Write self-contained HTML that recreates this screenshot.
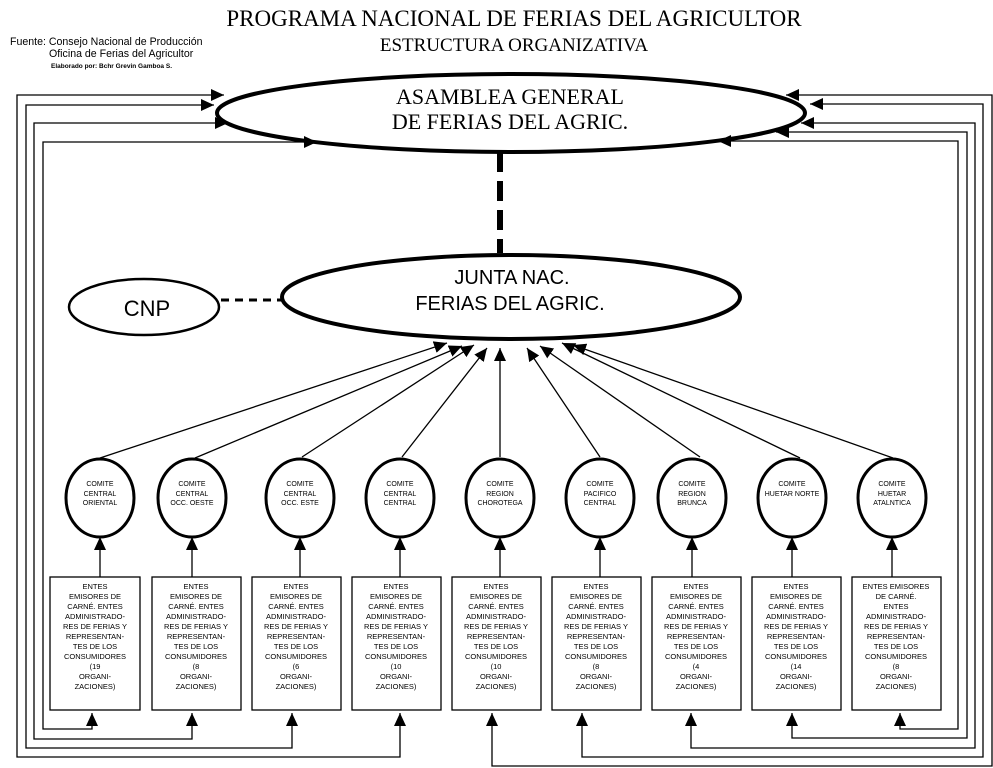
<!DOCTYPE html>
<html><head><meta charset="utf-8"><style>
html,body{margin:0;padding:0;background:#fff;}
svg{display:block;}
.s{font-family:"Liberation Sans",sans-serif;}
.r{font-family:"Liberation Serif",serif;}
</style></head><body>
<svg width="993" height="768" viewBox="0 0 993 768" xmlns="http://www.w3.org/2000/svg">
<defs>
<marker id="a" markerUnits="userSpaceOnUse" markerWidth="14" markerHeight="12" refX="13" refY="6" orient="auto-start-reverse">
<path d="M0,0 L13,6 L0,12 Z" fill="#000"/>
</marker>
</defs>
<text class="r" x="514" y="26" font-size="23" text-anchor="middle">PROGRAMA NACIONAL DE FERIAS DEL AGRICULTOR</text>
<text class="r" x="514" y="51" font-size="19" text-anchor="middle">ESTRUCTURA ORGANIZATIVA</text>
<text class="s" x="10" y="45" font-size="10.6">Fuente: Consejo Nacional de Producción</text>
<text class="s" x="49" y="57" font-size="10.6">Oficina de Ferias del Agricultor</text>
<text class="s" x="51" y="68" font-size="6.5" font-weight="bold">Elaborado por: Bchr Grevin Gamboa S.</text>

<!-- ellipses -->
<ellipse cx="511" cy="113" rx="294" ry="39" fill="#fff" stroke="#000" stroke-width="4"/>
<text class="r" x="510" y="104" font-size="22" text-anchor="middle">ASAMBLEA GENERAL</text>
<text class="r" x="510" y="129" font-size="22" text-anchor="middle">DE FERIAS DEL AGRIC.</text>
<line x1="500" y1="152" x2="500" y2="253" stroke="#000" stroke-width="6" stroke-dasharray="20,9"/>
<ellipse cx="511" cy="297" rx="229" ry="42" fill="#fff" stroke="#000" stroke-width="4"/>
<text class="s" x="512" y="284" font-size="20" text-anchor="middle">JUNTA NAC.</text>
<text class="s" x="510" y="310" font-size="20" text-anchor="middle">FERIAS DEL AGRIC.</text>
<line x1="221" y1="300" x2="281" y2="300" stroke="#000" stroke-width="3" stroke-dasharray="8,6"/>
<ellipse cx="144" cy="307" rx="75" ry="28" fill="#fff" stroke="#000" stroke-width="2.5"/>
<text class="s" x="147" y="316" font-size="22" text-anchor="middle">CNP</text>

<g fill="none" stroke="#000" stroke-width="1.3">
<!-- left loops -->
<polyline points="92,713 92,729 43,729 43,142 317,142" marker-start="url(#a)" marker-end="url(#a)"/>
<polyline points="192,713 192,739 34,739 34,123 228,123" marker-start="url(#a)" marker-end="url(#a)"/>
<polyline points="292,713 292,748 26,748 26,105 214,105" marker-start="url(#a)" marker-end="url(#a)"/>
<polyline points="400,713 400,757 17,757 17,95 224,95" marker-start="url(#a)" marker-end="url(#a)"/>
<!-- right loops -->
<polyline points="900,713 900,729 958,729 958,141 718,141" marker-start="url(#a)" marker-end="url(#a)"/>
<polyline points="792,713 792,738 967,738 967,132 776,132" marker-start="url(#a)" marker-end="url(#a)"/>
<polyline points="691,713 691,748 975,748 975,123 801,123" marker-start="url(#a)" marker-end="url(#a)"/>
<polyline points="582,713 582,757 983,757 983,104 810,104" marker-start="url(#a)" marker-end="url(#a)"/>
<polyline points="492,713 492,766 992,766 992,95 786,95" marker-start="url(#a)" marker-end="url(#a)"/>
<!-- circle to junta -->
<line x1="100" y1="458" x2="447" y2="343" marker-end="url(#a)"/>
<line x1="195" y1="458" x2="462" y2="346" marker-end="url(#a)"/>
<line x1="302" y1="457" x2="474" y2="345" marker-end="url(#a)"/>
<line x1="402" y1="457" x2="487" y2="348" marker-end="url(#a)"/>
<line x1="500" y1="457" x2="500" y2="348" marker-end="url(#a)"/>
<line x1="600" y1="457" x2="527" y2="348" marker-end="url(#a)"/>
<line x1="700" y1="457" x2="540" y2="346" marker-end="url(#a)"/>
<line x1="800" y1="458" x2="562" y2="343" marker-end="url(#a)"/>
<line x1="893" y1="458" x2="573" y2="345" marker-end="url(#a)"/>
<!-- box to circle -->
<line x1="100" y1="577" x2="100" y2="537" marker-end="url(#a)"/>
<line x1="192" y1="577" x2="192" y2="537" marker-end="url(#a)"/>
<line x1="300" y1="577" x2="300" y2="537" marker-end="url(#a)"/>
<line x1="400" y1="577" x2="400" y2="537" marker-end="url(#a)"/>
<line x1="500" y1="577" x2="500" y2="537" marker-end="url(#a)"/>
<line x1="600" y1="577" x2="600" y2="537" marker-end="url(#a)"/>
<line x1="692" y1="577" x2="692" y2="537" marker-end="url(#a)"/>
<line x1="792" y1="577" x2="792" y2="537" marker-end="url(#a)"/>
<line x1="892" y1="577" x2="892" y2="537" marker-end="url(#a)"/>
</g>

<g stroke="#000" stroke-width="3" fill="#fff">
<ellipse cx="100" cy="498" rx="34" ry="39"/>
<ellipse cx="192" cy="498" rx="34" ry="39"/>
<ellipse cx="300" cy="498" rx="34" ry="39"/>
<ellipse cx="400" cy="498" rx="34" ry="39"/>
<ellipse cx="500" cy="498" rx="34" ry="39"/>
<ellipse cx="600" cy="498" rx="34" ry="39"/>
<ellipse cx="692" cy="498" rx="34" ry="39"/>
<ellipse cx="792" cy="498" rx="34" ry="39"/>
<ellipse cx="892" cy="498" rx="34" ry="39"/>
</g>
<g class="s" font-size="7" text-anchor="middle">
<text x="100" y="486">COMITE</text><text x="100" y="496">CENTRAL</text><text x="100" y="505">ORIENTAL</text>
<text x="192" y="486">COMITE</text><text x="192" y="496">CENTRAL</text><text x="192" y="505">OCC. OESTE</text>
<text x="300" y="486">COMITE</text><text x="300" y="496">CENTRAL</text><text x="300" y="505">OCC.  ESTE</text>
<text x="400" y="486">COMITE</text><text x="400" y="496">CENTRAL</text><text x="400" y="505">CENTRAL</text>
<text x="500" y="486">COMITE</text><text x="500" y="496">REGION</text><text x="500" y="505">CHOROTEGA</text>
<text x="600" y="486">COMITE</text><text x="600" y="496">PACIFICO</text><text x="600" y="505">CENTRAL</text>
<text x="692" y="486">COMITE</text><text x="692" y="496">REGION</text><text x="692" y="505">BRUNCA</text>
<text x="792" y="486">COMITE</text><text x="792" y="496">HUETAR NORTE</text>
<text x="892" y="486">COMITE</text><text x="892" y="496">HUETAR</text><text x="892" y="505">ATALNTICA</text>
</g>

<g fill="#fff" stroke="#000" stroke-width="1.3">
<rect x="50" y="577" width="90" height="133"/>
<rect x="152" y="577" width="89" height="133"/>
<rect x="252" y="577" width="89" height="133"/>
<rect x="352" y="577" width="89" height="133"/>
<rect x="452" y="577" width="89" height="133"/>
<rect x="552" y="577" width="89" height="133"/>
<rect x="652" y="577" width="89" height="133"/>
<rect x="752" y="577" width="89" height="133"/>
<rect x="852" y="577" width="89" height="133"/>
</g>
<g class="s" font-size="7.5" text-anchor="middle">
<text x="95" y="589">ENTES</text><text x="95" y="599">EMISORES DE</text><text x="95" y="609">CARNÉ. ENTES</text><text x="95" y="619">ADMINISTRADO-</text><text x="95" y="629">RES DE FERIAS Y</text><text x="95" y="639">REPRESENTAN-</text><text x="95" y="649">TES DE LOS</text><text x="95" y="659">CONSUMIDORES</text><text x="95" y="669">(19</text><text x="95" y="679">ORGANI-</text><text x="95" y="689">ZACIONES)</text>
<text x="196" y="589">ENTES</text><text x="196" y="599">EMISORES DE</text><text x="196" y="609">CARNÉ. ENTES</text><text x="196" y="619">ADMINISTRADO-</text><text x="196" y="629">RES DE FERIAS Y</text><text x="196" y="639">REPRESENTAN-</text><text x="196" y="649">TES DE LOS</text><text x="196" y="659">CONSUMIDORES</text><text x="196" y="669">(8</text><text x="196" y="679">ORGANI-</text><text x="196" y="689">ZACIONES)</text>
<text x="296" y="589">ENTES</text><text x="296" y="599">EMISORES DE</text><text x="296" y="609">CARNÉ. ENTES</text><text x="296" y="619">ADMINISTRADO-</text><text x="296" y="629">RES DE FERIAS Y</text><text x="296" y="639">REPRESENTAN-</text><text x="296" y="649">TES DE LOS</text><text x="296" y="659">CONSUMIDORES</text><text x="296" y="669">(6</text><text x="296" y="679">ORGANI-</text><text x="296" y="689">ZACIONES)</text>
<text x="396" y="589">ENTES</text><text x="396" y="599">EMISORES DE</text><text x="396" y="609">CARNÉ. ENTES</text><text x="396" y="619">ADMINISTRADO-</text><text x="396" y="629">RES DE FERIAS Y</text><text x="396" y="639">REPRESENTAN-</text><text x="396" y="649">TES DE LOS</text><text x="396" y="659">CONSUMIDORES</text><text x="396" y="669">(10</text><text x="396" y="679">ORGANI-</text><text x="396" y="689">ZACIONES)</text>
<text x="496" y="589">ENTES</text><text x="496" y="599">EMISORES DE</text><text x="496" y="609">CARNÉ. ENTES</text><text x="496" y="619">ADMINISTRADO-</text><text x="496" y="629">RES DE FERIAS Y</text><text x="496" y="639">REPRESENTAN-</text><text x="496" y="649">TES DE LOS</text><text x="496" y="659">CONSUMIDORES</text><text x="496" y="669">(10</text><text x="496" y="679">ORGANI-</text><text x="496" y="689">ZACIONES)</text>
<text x="596" y="589">ENTES</text><text x="596" y="599">EMISORES DE</text><text x="596" y="609">CARNÉ. ENTES</text><text x="596" y="619">ADMINISTRADO-</text><text x="596" y="629">RES DE FERIAS Y</text><text x="596" y="639">REPRESENTAN-</text><text x="596" y="649">TES DE LOS</text><text x="596" y="659">CONSUMIDORES</text><text x="596" y="669">(8</text><text x="596" y="679">ORGANI-</text><text x="596" y="689">ZACIONES)</text>
<text x="696" y="589">ENTES</text><text x="696" y="599">EMISORES DE</text><text x="696" y="609">CARNÉ. ENTES</text><text x="696" y="619">ADMINISTRADO-</text><text x="696" y="629">RES DE FERIAS Y</text><text x="696" y="639">REPRESENTAN-</text><text x="696" y="649">TES DE LOS</text><text x="696" y="659">CONSUMIDORES</text><text x="696" y="669">(4</text><text x="696" y="679">ORGANI-</text><text x="696" y="689">ZACIONES)</text>
<text x="796" y="589">ENTES</text><text x="796" y="599">EMISORES DE</text><text x="796" y="609">CARNÉ. ENTES</text><text x="796" y="619">ADMINISTRADO-</text><text x="796" y="629">RES DE FERIAS Y</text><text x="796" y="639">REPRESENTAN-</text><text x="796" y="649">TES DE LOS</text><text x="796" y="659">CONSUMIDORES</text><text x="796" y="669">(14</text><text x="796" y="679">ORGANI-</text><text x="796" y="689">ZACIONES)</text>
<text x="896" y="589">ENTES EMISORES</text><text x="896" y="599">DE CARNÉ.</text><text x="896" y="609">ENTES</text><text x="896" y="619">ADMINISTRADO-</text><text x="896" y="629">RES DE FERIAS Y</text><text x="896" y="639">REPRESENTAN-</text><text x="896" y="649">TES DE LOS</text><text x="896" y="659">CONSUMIDORES</text><text x="896" y="669">(8</text><text x="896" y="679">ORGANI-</text><text x="896" y="689">ZACIONES)</text>
</g>
</svg>
</body></html>
